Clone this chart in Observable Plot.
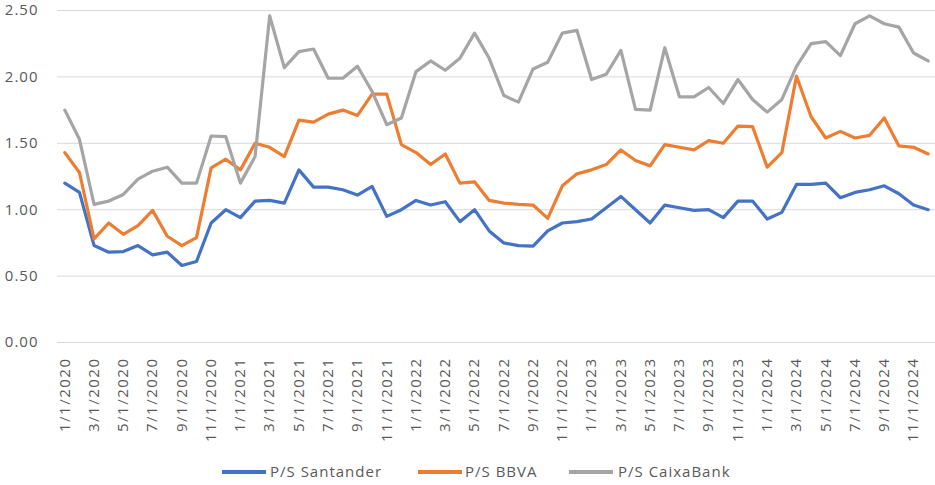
<!DOCTYPE html>
<html><head><meta charset="utf-8">
<script src="https://cdn.jsdelivr.net/npm/d3@7"></script>
<script src="https://cdn.jsdelivr.net/npm/@observablehq/plot@0.6"></script>
<style>
body{margin:0;background:#fff;font-family:"Open Sans",sans-serif;}
#legend{position:relative;height:40px;width:935px;}
.sw{position:absolute;height:4px;}
.lt{position:absolute;font-size:15px;color:#595959;letter-spacing:1px;line-height:20px;white-space:nowrap;}
.xax text{letter-spacing:1.5px;}
</style></head><body><div id="chart"></div><div id="legend"></div>
<script>
const months = ["1/1/2020","2/1/2020","3/1/2020","4/1/2020","5/1/2020","6/1/2020","7/1/2020","8/1/2020","9/1/2020","10/1/2020","11/1/2020","12/1/2020",
"1/1/2021","2/1/2021","3/1/2021","4/1/2021","5/1/2021","6/1/2021","7/1/2021","8/1/2021","9/1/2021","10/1/2021","11/1/2021","12/1/2021",
"1/1/2022","2/1/2022","3/1/2022","4/1/2022","5/1/2022","6/1/2022","7/1/2022","8/1/2022","9/1/2022","10/1/2022","11/1/2022","12/1/2022",
"1/1/2023","2/1/2023","3/1/2023","4/1/2023","5/1/2023","6/1/2023","7/1/2023","8/1/2023","9/1/2023","10/1/2023","11/1/2023","12/1/2023",
"1/1/2024","2/1/2024","3/1/2024","4/1/2024","5/1/2024","6/1/2024","7/1/2024","8/1/2024","9/1/2024","10/1/2024","11/1/2024","12/1/2024"];
const santander = [1.20,1.13,0.73,0.68,0.685,0.73,0.66,0.68,0.58,0.61,0.90,1.00,0.94,1.065,1.07,1.05,1.30,1.17,
1.17,1.15,1.11,1.175,0.95,1.00,1.07,1.035,1.06,0.91,1.00,0.84,0.75,0.73,0.725,0.84,0.90,0.91,0.93,1.015,1.10,
1.00,0.90,1.035,1.015,0.995,1.00,0.94,1.065,1.065,0.93,0.98,1.19,1.19,1.20,1.09,1.13,1.15,1.18,1.12,1.035,1.00];
const bbva = [1.43,1.28,0.78,0.90,0.815,0.88,0.995,0.80,0.73,0.79,1.315,1.38,1.30,1.50,1.47,1.40,1.675,1.66,
1.72,1.75,1.71,1.87,1.87,1.49,1.43,1.34,1.42,1.20,1.21,1.07,1.05,1.04,1.035,0.935,1.18,1.27,1.30,1.34,1.45,
1.37,1.33,1.49,1.47,1.45,1.52,1.50,1.63,1.625,1.32,1.43,2.005,1.70,1.54,1.59,1.54,1.56,1.69,1.48,1.47,1.42];
const caixabank = [1.75,1.53,1.04,1.065,1.115,1.23,1.29,1.32,1.20,1.20,1.555,1.55,1.20,1.40,2.46,2.07,2.19,2.21,
1.99,1.99,2.08,1.89,1.64,1.69,2.04,2.12,2.05,2.14,2.33,2.14,1.86,1.81,2.06,2.11,2.33,2.35,1.98,2.02,2.20,
1.755,1.75,2.22,1.85,1.85,1.92,1.80,1.98,1.83,1.735,1.83,2.08,2.25,2.265,2.16,2.40,2.46,2.40,2.375,2.18,2.12];
const yTicks = [0,0.5,1,1.5,2,2.5];
const xTicks = ["1/1/2020","3/1/2020","5/1/2020","7/1/2020","9/1/2020","11/1/2020","1/1/2021","3/1/2021","5/1/2021","7/1/2021","9/1/2021","11/1/2021",
"1/1/2022","3/1/2022","5/1/2022","7/1/2022","9/1/2022","11/1/2022","1/1/2023","3/1/2023","5/1/2023","7/1/2023","9/1/2023","11/1/2023",
"1/1/2024","3/1/2024","5/1/2024","7/1/2024","9/1/2024","11/1/2024"];
const seriesNames = ["P/S Santander","P/S BBVA","P/S CaixaBank"];
const colors = ["#4472C4","#ED7D31","#A5A5A5"];

const data = [];
[santander,bbva,caixabank].forEach((arr,k)=>arr.forEach((v,i)=>data.push({month:months[i],value:v,series:seriesNames[k]})));

const chart = Plot.plot({
  width:935,height:446,marginLeft:57,marginRight:0,marginTop:10,marginBottom:104,
  style:{fontFamily:"Open Sans",fontSize:"15px",color:"#595959",background:"#fff",letterSpacing:"1px"},
  x:{type:"point",domain:months,padding:0.5,label:null},
  y:{domain:[0,2.5],label:null},
  color:{domain:seriesNames,range:colors},
  marks:[
    Plot.gridY(yTicks,{stroke:"#D9D9D9",strokeOpacity:1,strokeWidth:1}),
    Plot.axisY(yTicks,{tickSize:0,tickPadding:19,tickFormat:d3.format(".2f"),fill:"#595959",fontSize:15,label:null}),
    Plot.axisX(xTicks,{tickRotate:-90,tickSize:0,tickPadding:15,fill:"#595959",fontSize:15,label:null,className:"xax"}),
    Plot.lineY(data,{x:"month",y:"value",stroke:"series",z:"series",strokeWidth:3.2,strokeLinejoin:"round"})
  ]
});
document.getElementById("chart").appendChild(chart);

const legend = document.getElementById("legend");
const swX = [222,418,569], txX = [270,465,618];
const cy = 472 - 446;
seriesNames.forEach((n,k)=>{
  const s=document.createElement("div");s.className="sw";
  s.style.left=swX[k]+"px";s.style.width="44px";s.style.top=(cy-2)+"px";s.style.background=colors[k];
  legend.appendChild(s);
  const t=document.createElement("div");t.className="lt";t.textContent=n;
  t.style.left=txX[k]+"px";t.style.top=(cy-11)+"px";
  legend.appendChild(t);
});
</script></body></html>
